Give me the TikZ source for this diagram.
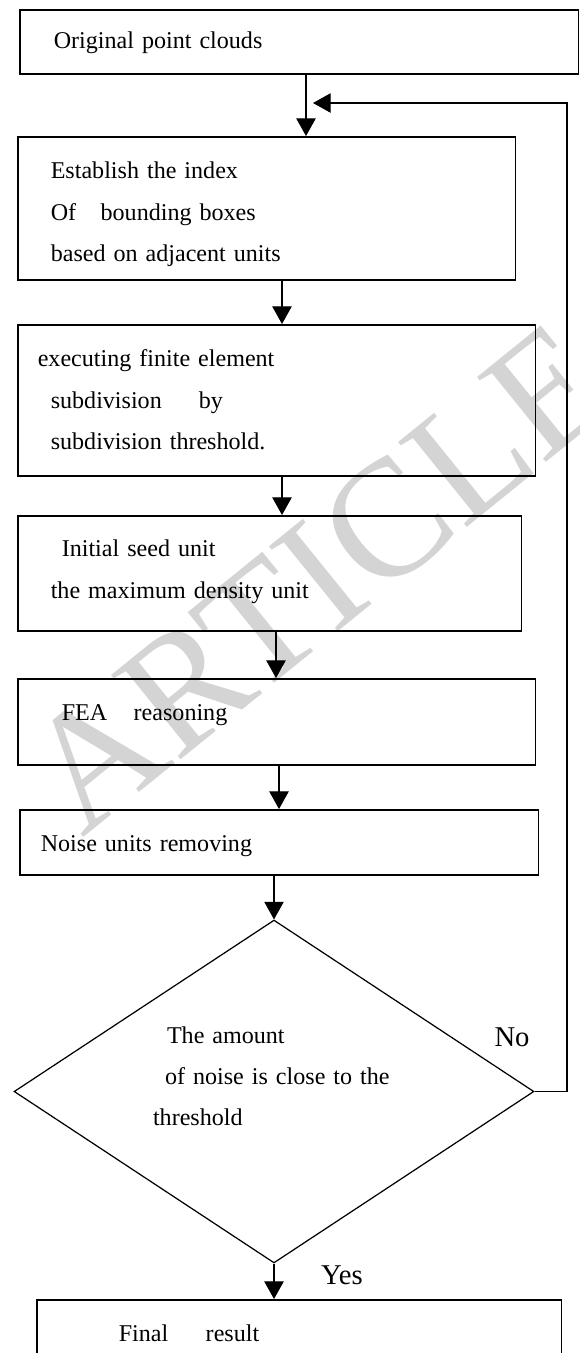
\documentclass[tikz,border=0pt]{standalone}
\usepackage{fontspec}
\setmainfont{Liberation Serif}
\usetikzlibrary{
	arrows.meta,
	positioning,
	shapes.geometric
}

\begin{document}
\begin{tikzpicture}[
			x=0.02cm, y=-0.02cm,
			font=\fontsize{13.7pt}{23.6pt}\selectfont,
			procbox/.style={draw, line width=0.9pt, anchor=north west, align=left, inner ysep=0pt},
			decision/.style={draw, line width=0.7pt, diamond, shape aspect=1.516, inner sep=0pt, align=left},
			lbl/.style={font=\fontsize{16.3pt}{19pt}\selectfont},
			wmark/.style={text=black!17, rotate=39, font=\fontsize{95pt}{97pt}\selectfont},
			>={Triangle[length=10pt,width=11pt]},
			fl/.style={->, line width=0.6pt}
		]

		\clip (0,0) rectangle (579,1353);

		\node[wmark] (wm) at (318,578) {ARTICLE};

		\node[procbox, minimum width=11.18cm, inner xsep=0.68cm, text width=9.82cm, text height=0.78cm, text depth=0.5cm] (b1) at (19,9) {Original point clouds};
		\node[procbox, minimum width=9.96cm, inner xsep=0.66cm, text width=8.64cm, text height=0.84cm, text depth=2.02cm] (b2) at (17,136) {Establish the index\\Of\hspace{0.49cm}bounding boxes\\based on adjacent units};
		\node[procbox, minimum width=10.36cm, inner xsep=0.4cm, text width=9.56cm, text height=0.84cm, text depth=2.18cm] (b3) at (17,324) {executing finite element\\\hspace*{0.26cm}subdivision\hspace{0.74cm}by\\\hspace*{0.26cm}subdivision threshold.};
		\node[procbox, minimum width=10.08cm, inner xsep=0.66cm, text width=8.76cm, text height=0.82cm, text depth=1.48cm] (b4) at (17,515) {\hspace*{0.22cm}Initial seed unit\\the maximum density unit};
		\node[procbox, minimum width=10.36cm, inner xsep=0.88cm, text width=8.6cm, text height=0.84cm, text depth=0.88cm] (b5) at (17,678) {FEA\hspace{0.53cm}reasoning};
		\node[procbox, minimum width=10.38cm, inner xsep=0.42cm, text width=9.54cm, text height=0.84cm, text depth=0.46cm] (b6) at (19,809) {Noise units removing};
		\node[decision, minimum width=10.4cm, minimum height=6.86cm, text width=4.84cm, text height=0.4cm, text depth=2.34cm] (d) at (274,1091.5) {\hspace*{0.28cm}The amount\\\hspace*{0.24cm}of noise is close to the\\threshold};
		\node[procbox, minimum width=10.5cm, inner xsep=1.64cm, text width=7.22cm, text height=0.84cm, text depth=1.6cm] (b7) at (36,1299) {Final\hspace{0.75cm}result};

		\node[lbl] (no) at (512,1037) {No};
		\node[lbl] (yes) at (342,1275) {Yes};

		\coordinate (back) at (313,103);

		\draw[fl] (306,0 |- b1.south) -- (306,0 |- b2.north);
		\draw[fl] (282,0 |- b2.south) -- (282,0 |- b3.north);
		\draw[fl] (282,0 |- b3.south) -- (282,0 |- b4.north);
		\draw[fl] (276,0 |- b4.south) -- (276,0 |- b5.north);
		\draw[fl] (279,0 |- b5.south) -- (279,0 |- b6.north);
		\draw[fl] (d.north |- b6.south) -- (d.north);
		\draw[fl] (d.south) -- (d.south |- b7.north);
		\draw[fl] (d.east) -| (567,0 |- back) -- (back);
	\end{tikzpicture}
\end{document}
